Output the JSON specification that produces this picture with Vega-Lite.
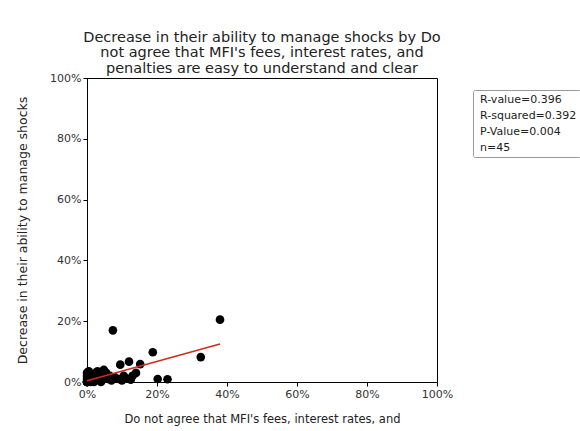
{
  "$schema": "https://vega.github.io/schema/vega-lite/v6.json",
  "width": 350,
  "height": 304,
  "autosize": {"type": "none"},
  "padding": {"left": 87, "top": 78, "right": 143, "bottom": 49},
  "background": "white",
  "config": {
    "font": "DejaVu Sans",
    "view": {"stroke": "black", "strokeWidth": 1},
    "axis": {"grid": false, "labelFlush": false, "domainColor": "black", "tickColor": "black", "tickSize": 4, "labelFontSize": 11, "labelColor": "#333", "titleFontSize": 11.5, "titleFontWeight": "normal", "titleColor": "#222", "labelFont": "DejaVu Sans", "titleFont": "DejaVu Sans"}
  },
  "title": {
    "text": ["Decrease in their ability to manage shocks by Do", "not agree that MFI's fees, interest rates, and", "penalties are easy to understand and clear"],
    "anchor": "middle",
    "fontSize": 14.5,
    "fontWeight": "normal",
    "color": "#222",
    "font": "DejaVu Sans",
    "lineHeight": 15.5,
    "offset": -4
  },
  "datasets": {
    "points": [
      {"x": 0.38, "y": 0.205}, {"x": 0.074, "y": 0.17}, {"x": 0.188, "y": 0.098}, {"x": 0.325, "y": 0.082},
      {"x": 0.202, "y": 0.01}, {"x": 0.23, "y": 0.009}, {"x": 0.095, "y": 0.057}, {"x": 0.12, "y": 0.067},
      {"x": 0.152, "y": 0.059}, {"x": 0.11, "y": 0.013}, {"x": 0.125, "y": 0.008}, {"x": 0.10, "y": 0.005},
      {"x": 0.005, "y": 0.035}, {"x": 0.025, "y": 0.03}, {"x": 0.048, "y": 0.04}, {"x": 0.035, "y": 0.025},
      {"x": 0.01, "y": 0.015}, {"x": 0.02, "y": 0.005}, {"x": 0.06, "y": 0.01}, {"x": 0.05, "y": 0.02},
      {"x": 0.08, "y": 0.015}, {"x": 0.0, "y": 0.0}, {"x": 0.0, "y": 0.0}, {"x": 0.0, "y": 0.0},
      {"x": 0.01, "y": 0.0}, {"x": 0.02, "y": 0.0}, {"x": 0.0, "y": 0.01}, {"x": 0.0, "y": 0.02},
      {"x": 0.03, "y": 0.01}, {"x": 0.04, "y": 0.0}, {"x": 0.015, "y": 0.025}, {"x": 0.005, "y": 0.005},
      {"x": 0.07, "y": 0.005}, {"x": 0.09, "y": 0.01}, {"x": 0.0, "y": 0.03}, {"x": 0.03, "y": 0.035},
      {"x": 0.045, "y": 0.01}, {"x": 0.055, "y": 0.03}, {"x": 0.065, "y": 0.02}, {"x": 0.13, "y": 0.02},
      {"x": 0.14, "y": 0.03}, {"x": 0.105, "y": 0.02}, {"x": 0.0, "y": 0.0}, {"x": 0.01, "y": 0.01}, {"x": 0.02, "y": 0.02}
    ],
    "fit": [{"x": 0.0, "y": 0.004}, {"x": 0.38, "y": 0.125}],
    "stats": [{"stat": "R-value=0.396"}, {"stat": "R-squared=0.392"}, {"stat": "P-Value=0.004"}, {"stat": "n=45"}]
  },
  "layer": [
    {
      "data": {"name": "points"},
      "mark": {"type": "circle", "size": 75, "color": "black", "opacity": 1},
      "encoding": {
        "x": {"field": "x", "type": "quantitative", "scale": {"domain": [0, 1], "nice": false, "zero": true}, "axis": {"format": ".0%", "values": [0, 0.2, 0.4, 0.6, 0.8, 1], "title": "Do not agree that MFI's fees, interest rates, and", "titlePadding": 14}},
        "y": {"field": "y", "type": "quantitative", "scale": {"domain": [0, 1], "nice": false}, "axis": {"format": ".0%", "values": [0, 0.2, 0.4, 0.6, 0.8, 1], "title": "Decrease in their ability to manage shocks", "titleFontSize": 12.5, "titlePadding": 20}}
      }
    },
    {
      "data": {"name": "fit"},
      "mark": {"type": "line", "color": "#d42a1e", "strokeWidth": 1.6},
      "encoding": {
        "x": {"field": "x", "type": "quantitative"},
        "y": {"field": "y", "type": "quantitative"}
      }
    },
    {
      "data": {"name": "stats"},
      "mark": {"type": "point", "opacity": 0},
      "encoding": {
        "x": {"datum": 0, "type": "quantitative"},
        "y": {"datum": 0, "type": "quantitative"},
        "color": {
          "field": "stat", "type": "nominal",
          "scale": {"domain": ["R-value=0.396", "R-squared=0.392", "P-Value=0.004", "n=45"], "range": ["black", "black", "black", "black"]},
          "legend": {"orient": "none", "legendX": 386, "legendY": 12, "title": null, "symbolSize": 0, "symbolStrokeWidth": 0, "symbolOpacity": 0, "labelOffset": -8, "labelFontSize": 11, "labelColor": "#222", "labelFont": "DejaVu Sans", "strokeColor": "#999", "padding": 4, "rowPadding": 4, "fillColor": "white", "cornerRadius": 2}
        }
      }
    }
  ]
}
